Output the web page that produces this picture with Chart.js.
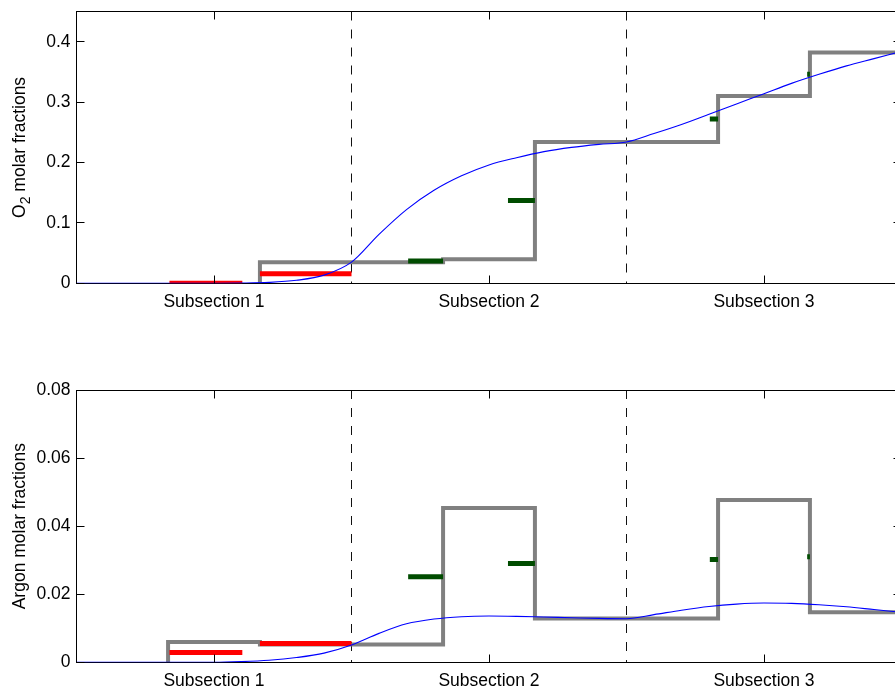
<!DOCTYPE html>
<html>
<head>
<meta charset="utf-8">
<script src="https://cdn.jsdelivr.net/npm/chart.js@4/dist/chart.umd.min.js"></script>
<style>
  html, body { margin: 0; padding: 0; background: #fff; overflow: hidden; width: 895px; height: 693px; }
  #wrap { position: relative; width: 910px; height: 693px; }
  canvas { position: absolute; left: 0; }
  #o2Chart { top: 0; }
  #arChart { top: 340px; }
</style>
</head>
<body>
<div id="wrap">
  <canvas id="o2Chart" width="910" height="340"></canvas>
  <canvas id="arChart" width="910" height="353"></canvas>
</div>
<script>
// ---- axis categories and ticks ----
const sectionLabels = ['Subsection 1', 'Subsection 2', 'Subsection 3'];
const sectionCenters = [0.5, 1.5, 2.5];
const sectionBounds = [1, 2];
const o2Ticks = [0, 0.1, 0.2, 0.3, 0.4];
const argonTicks = [0, 0.02, 0.04, 0.06, 0.08];

// ---- continuous profiles (blue) ----
const profileX = [0, 0.1, 0.2, 0.3, 0.4, 0.5, 0.6, 0.7, 0.8, 0.9, 1.0,
                  1.1, 1.2, 1.3, 1.4, 1.5, 1.6, 1.7, 1.8, 1.9, 2.0,
                  2.1, 2.2, 2.3, 2.4, 2.5, 2.6, 2.7, 2.8, 2.9, 3.0];
const o2Profile = [0, 0, 0, 0, 0, 0.0001, 0.0004, 0.0015, 0.0050, 0.0135, 0.035,
                   0.081, 0.122, 0.154, 0.178, 0.196, 0.208, 0.218, 0.225, 0.230, 0.234,
                   0.248, 0.263, 0.280, 0.297, 0.314, 0.331, 0.346, 0.360, 0.372, 0.384];
const argonProfile = [0, 0, 0, 0, 0, 0, 0.0002, 0.0006, 0.0014, 0.0027, 0.0051,
                      0.0085, 0.0113, 0.0127, 0.0134, 0.0136, 0.0135, 0.0133, 0.0131, 0.0129, 0.0128,
                      0.0140, 0.0153, 0.0164, 0.0171, 0.0174, 0.0173, 0.0169, 0.0163, 0.0155, 0.0147];

// ---- piecewise-constant levels (grey): level starts and values ----
const o2StepX = [0.667, 0.667, 1.333, 1.667, 2.333, 2.667, 3.0];
const o2StepY = [0, 0.035, 0.040, 0.234, 0.310, 0.382, 0.382];
const argonStepX = [0.333, 0.333, 0.667, 1.333, 1.667, 2.333, 2.667, 3.0];
const argonStepY = [0, 0.0060, 0.0052, 0.0453, 0.0129, 0.0477, 0.0147, 0.0147];

// ---- red estimates (subsection 1) ----
const redStart = [0.338, 0.667];
const redEnd = [0.603, 1.0];
const o2Red = [0, 0.016];
const argonRed = [0.0029, 0.0055];

// ---- green estimates (subsections 2 and 3) ----
const greenStart = [1.206, 1.569, 2.303, 2.657];
const greenEnd = [1.333, 1.667, 2.333, 2.667];
const o2Green = [0.037, 0.137, 0.272, 0.346];
const argonGreen = [0.0251, 0.0290, 0.0302, 0.0310];

const FONT_FAMILY = "'Liberation Sans', Arial, Helvetica, sans-serif";
const FONT_SIZE = 17.5;
Chart.defaults.font.family = FONT_FAMILY;
Chart.defaults.font.size = FONT_SIZE;
Chart.defaults.color = '#000';

const align = v => Math.round(v - 0.5) + 0.5;

// Box frame with inward tick marks on all four sides, plus the rotated y title.
const frameTicks = {
  id: 'frameTicks',
  afterDraw(chart, args, opts) {
    const { ctx, chartArea: a, scales: { x, y } } = chart;
    const L = align(a.left), R = align(a.right), T = align(a.top), B = align(a.bottom);
    const len = 8;
    ctx.save();
    ctx.strokeStyle = '#000';
    ctx.lineWidth = 1;
    ctx.beginPath();
    ctx.moveTo(L, T); ctx.lineTo(R, T); ctx.lineTo(R, B);
    x.ticks.forEach(t => {
      const px = align(x.getPixelForValue(t.value));
      ctx.moveTo(px, B); ctx.lineTo(px, B - len);
      ctx.moveTo(px, T); ctx.lineTo(px, T + len);
    });
    y.ticks.forEach(t => {
      const py = align(y.getPixelForValue(t.value));
      ctx.moveTo(L, py); ctx.lineTo(L + len, py);
      ctx.moveTo(R, py); ctx.lineTo(R - len, py);
    });
    ctx.stroke();

    // rotated axis title, with optional subscript part
    const parts = opts.parts || [];
    const mainFont = FONT_SIZE + 'px ' + FONT_FAMILY;
    const subFont = '14px ' + FONT_FAMILY;
    let total = 0;
    parts.forEach(p => { ctx.font = p.sub ? subFont : mainFont; total += ctx.measureText(p.text).width; });
    ctx.translate(opts.titleX, (a.top + a.bottom) / 2);
    ctx.rotate(-Math.PI / 2);
    ctx.fillStyle = '#000';
    ctx.textBaseline = 'middle';
    ctx.textAlign = 'left';
    let cx = -total / 2;
    parts.forEach(p => {
      ctx.font = p.sub ? subFont : mainFont;
      ctx.fillText(p.text, cx, p.sub ? 6 : 0);
      cx += ctx.measureText(p.text).width;
    });
    ctx.restore();
  }
};

function pts(xs, ys) { return xs.map((v, i) => ({ x: v, y: ys[i] })); }

function bars(starts, ends, values, color) {
  return starts.map((s, i) => ({
    data: [{ x: s, y: values[i] }, { x: ends[i], y: values[i] }],
    borderColor: color, borderWidth: 5, borderCapStyle: 'butt',
    pointRadius: 0, clip: 0
  }));
}

function makePanel(canvasId, cfg) {
  const datasets = [
    { data: pts(profileX, cfg.profile), borderColor: '#0000ff', borderWidth: 1.1,
      cubicInterpolationMode: 'monotone', pointRadius: 0, clip: 0 },
    ...bars(redStart, redEnd, cfg.red, '#ff0000'),
    ...bars(greenStart, greenEnd, cfg.green, '#004c00'),
    { data: pts(cfg.stepX, cfg.stepY), stepped: true, borderColor: '#808080', borderWidth: 4,
      borderJoinStyle: 'miter', borderCapStyle: 'butt', pointRadius: 0, clip: 0 },
    ...sectionBounds.map(b => ({
      data: [{ x: b, y: cfg.yMax }, { x: b, y: 0 }], borderColor: '#111', borderWidth: 1,
      borderDash: [9, 9], pointRadius: 0, clip: 0
    }))
  ];
  return new Chart(document.getElementById(canvasId), {
    type: 'line',
    data: { datasets },
    plugins: [frameTicks],
    options: {
      responsive: false,
      animation: false,
      devicePixelRatio: 1,
      layout: { padding: { top: cfg.topPad, right: 8.5, left: 0, bottom: 0 } },
      plugins: {
        legend: { display: false },
        tooltip: { enabled: false },
        frameTicks: { parts: cfg.title, titleX: 20 }
      },
      scales: {
        x: {
          type: 'linear', min: 0, max: 3,
          grid: { display: false, drawTicks: false },
          border: { display: true, color: '#000', width: 1 },
          afterBuildTicks: s => { s.ticks = sectionCenters.map(v => ({ value: v })); },
          afterFit: s => { s.height = cfg.xAxisHeight; s.paddingLeft = 0; s.paddingRight = 0; },
          ticks: { padding: 8, maxRotation: 0, autoSkip: false,
                   callback: (v, i) => sectionLabels[i] }
        },
        y: {
          type: 'linear', min: 0, max: cfg.yMax,
          grid: { display: false, drawTicks: false },
          border: { display: true, color: '#000', width: 1 },
          afterBuildTicks: s => { s.ticks = cfg.yTicks.map(v => ({ value: v })); },
          afterFit: s => { s.width = 76.5; s.paddingTop = 0; s.paddingBottom = 0; },
          ticks: { padding: 6, callback: v => String(+v.toFixed(3)) }
        }
      }
    }
  });
}

makePanel('o2Chart', {
  profile: o2Profile, stepX: o2StepX, stepY: o2StepY,
  red: o2Red, green: o2Green, yMax: 0.45, yTicks: o2Ticks,
  topPad: 11.5, xAxisHeight: 56.7,
  title: [{ text: 'O' }, { text: '2', sub: true }, { text: ' molar fractions' }]
});

makePanel('arChart', {
  profile: argonProfile, stepX: argonStepX, stepY: argonStepY,
  red: argonRed, green: argonGreen, yMax: 0.08, yTicks: argonTicks,
  topPad: 50, xAxisHeight: 30.7,
  title: [{ text: 'Argon molar fractions' }]
});
</script>
</body>
</html>
